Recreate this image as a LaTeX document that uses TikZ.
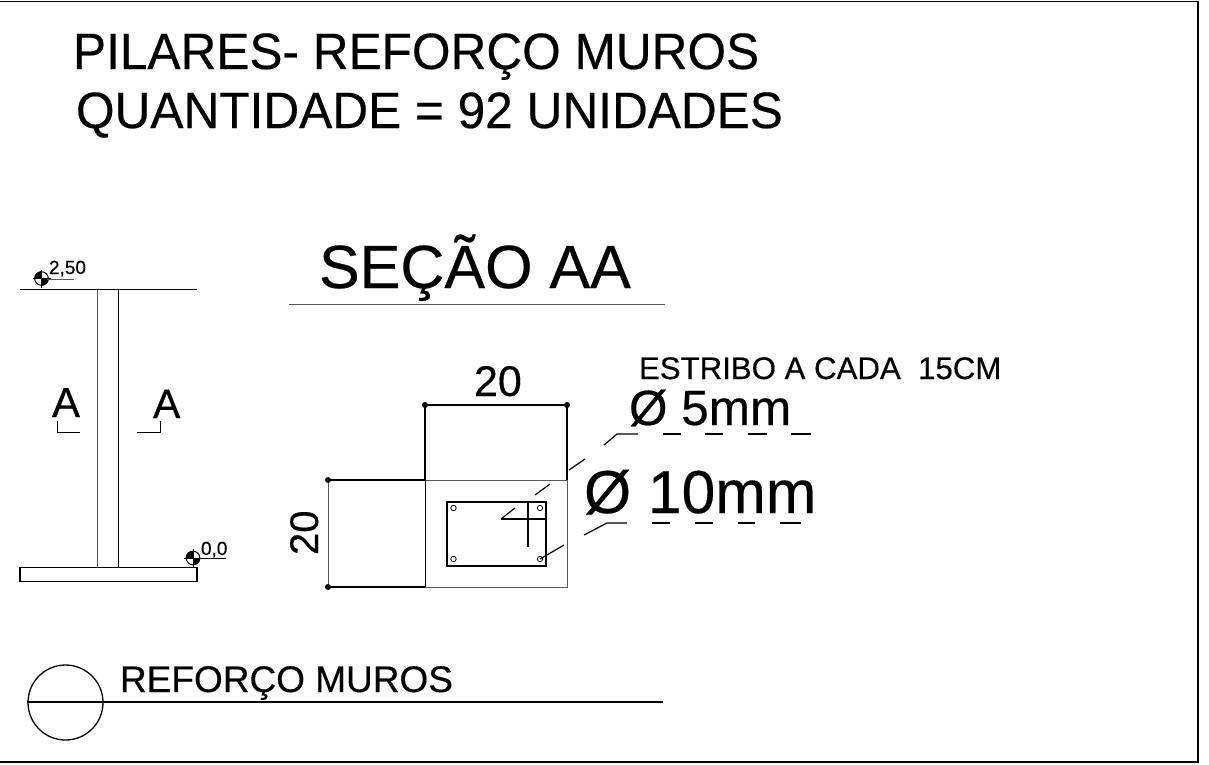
\documentclass[tikz,border=0pt]{standalone}
\usepackage{fontspec}
\setmainfont[RawFeature={embolden=0.35}]{Liberation Sans}
\tikzset{
 lbl/.style={anchor=base west,inner sep=0pt,outer sep=0pt,text=black},
 thin line/.style={line width=0.8pt,black},
 med line/.style={line width=1.3pt,black},
 gray line/.style={line width=0.9pt,black!65},
 lead/.style={line width=1.2pt,black},
}
\newcommand{\Fs}[1]{\fontsize{#1}{#1}\selectfont}
\newcommand{\levelmark}[1]{%
 \begin{scope}[shift={#1}]
  \draw[line width=1pt] (0,0) circle (6.8);
  \fill (0,0) -- (7.2,0) arc (0:90:7.2) -- cycle;
  \fill (0,0) -- (-7.2,0) arc (180:270:7.2) -- cycle;
  \draw[line width=0.7pt] (-9,0) -- (9,0) (0,-9) -- (0,9);
 \end{scope}}
\begin{document}
\begin{tikzpicture}[x=1pt,y=-1pt]
\useasboundingbox (0,0) rectangle (1209,764);
\fill[white] (0,0) rectangle (1209,764);
% frame
\draw[med line] (0,1.5) -- (1198,1.5) -- (1198,762) -- (0,762);
% titles
\node[lbl,yscale=1.03] (t1) at (73,69) {\Fs{49.6}PILARES- REFORÇO MUROS};
\node[lbl,yscale=1.03] (t2) at (76,128) {\Fs{49.6}QUANTIDADE = 92 UNIDADES};
\node[lbl] (t3) at (319,288) {\Fs{61}SEÇÃO AA};
\draw[gray line] (289,304) -- (665,304);
% elevation
\draw[med line] (20,289.5) -- (197,289.5);
\draw[gray line] (97.5,289.5) -- (97.5,567);
\draw[thin line] (118.5,289.5) -- (118.5,567);
\draw[med line] (20,567.5) rectangle (197,581.5);
\levelmark{(41.5,278.5)}
\draw[gray line] (47,279) -- (74,279);
\node[lbl] (l1) at (49,274) {\Fs{19}2,50};
\levelmark{(193,558)}
\draw[thin line] (199,558) -- (226,558);
\node[lbl] (l2) at (201,555) {\Fs{19}0,0};
\node[lbl] (a1) at (52,417) {\Fs{42}A};
\node[lbl] (a2) at (153,418) {\Fs{41}A};
\draw[thin line] (57,421) -- (57,432) -- (80,432);
\draw[thin line] (160,421) -- (160,432) -- (137,432);
% section
\draw[med line] (425,480) -- (425,405) -- (567,405) -- (567,480);
\draw[gray line] (425,480) -- (567,480) -- (567,587) -- (425,587);
\draw[thin line] (425,480) -- (425,587);
\draw[med line] (328,587) -- (425,587);
\draw[med line] (425,480) -- (328,480);
\draw[gray line] (328,480) -- (328,587);
\foreach \p in {(425,405),(567,405),(328,480),(328,587)} \fill \p circle (3);
\node[lbl] (d1) at (474,396) {\Fs{43}20};
\node[lbl,rotate=90] (d2) at (318,555) {\Fs{40}20};
% rebar
\draw[line width=2pt] (447,501.5) rectangle (546,566);
\draw[line width=1.4pt] (528,501.5) -- (528,547);
\draw[line width=1.4pt] (501,519) -- (546,519);
\draw[lead] (501,519) -- (515,508);
\foreach \p in {(453.5,508),(540,508),(453.5,559),(540,559)} \draw[line width=0.8pt] \p circle (2.7);
\draw[lead] (540,559) -- (564,545);
\draw[lead] (535,495) -- (550,484);
\draw[lead] (569,470) -- (585,459);
\draw[lead] (604,445) -- (617,434) -- (638,434);
\draw[lead] (584,535) -- (607,523) -- (627,523);
\foreach \a/\b in {663/681,705/723,748/767,791/811} \draw[lead] (\a,434) -- (\b,434);
\foreach \a/\b in {652/670,695/713,738/755,780/801} \draw[lead] (\a,523) -- (\b,523);
\node[lbl] (e) at (639,379) {\Fs{31.2}ESTRIBO A CADA\ \ 15CM};
\node[lbl] (d3) at (629,425) {\Fs{49.5}Ø 5mm};
\node[lbl] (d4) at (584,513) {\Fs{60.6}Ø 10mm};
% legend
\draw[med line] (65.5,702.5) circle (37.5);
\draw[med line] (27,702) -- (663,702);
\node[lbl] (r) at (120,692) {\Fs{37}REFORÇO MUROS};
\end{tikzpicture}
\end{document}
